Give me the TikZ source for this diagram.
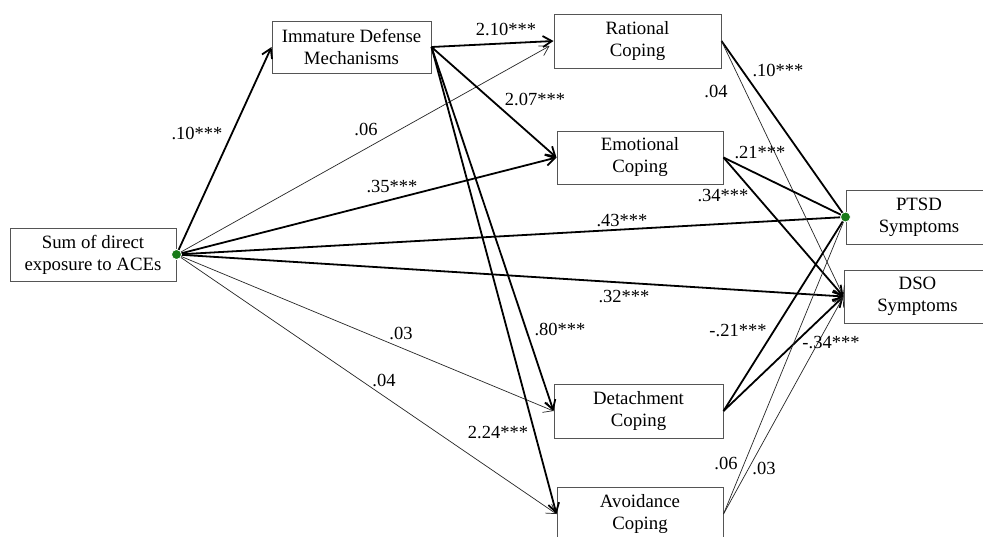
\documentclass[tikz,border=0pt]{standalone}
\usepackage{fontspec}
\setmainfont{Liberation Serif}
\usetikzlibrary{arrows.meta}
\definecolor{dotgreen}{RGB}{24,122,24}
\definecolor{boxgray}{RGB}{85,85,85}
\begin{document}
\begin{tikzpicture}[x=1pt,y=-1pt,
  box/.style={draw=boxgray, line width=1pt, fill=white, align=center, inner sep=0pt,
    font=\fontsize{18.8}{22}\selectfont},
  lab/.style={inner sep=0pt, font=\fontsize{18.5}{20}\selectfont},
  strong/.style={line width=1.8pt, draw=black},
  weak/.style={line width=0.7pt, draw=black!85},
  arr/.style={-{Straight Barb[length=9pt,width=11pt]}},
  dot/.style={circle, fill=dotgreen, draw=white, line width=0.8pt, inner sep=0pt, minimum size=10pt}
]
\useasboundingbox (0,0) rectangle (983,536);
\fill[white] (0,0) rectangle (983,536);

% boxes
\node[box, minimum width=166pt, minimum height=53pt] (ace) at (93,254.5) {Sum of direct\\exposure to ACEs};
\node[box, minimum width=159pt, minimum height=52pt] (idm) at (351.5,47) {Immature Defense\\Mechanisms};
\node[box, minimum width=167pt, minimum height=54pt] (rat) at (637.5,41) {Rational\\Coping};
\node[box, minimum width=166pt, minimum height=53pt] (emo) at (640,157.5) {Emotional\\Coping};
\node[box, minimum width=169pt, minimum height=54pt] (det) at (638.5,411) {Detachment\\Coping};
\node[box, minimum width=166pt, minimum height=54pt] (avo) at (640,514) {Avoidance\\Coping};
\node[box, minimum width=146pt, minimum height=54pt] (ptsd) at (919,217) {PTSD\\Symptoms};
\node[box, minimum width=147pt, minimum height=53pt] (dso) at (917.5,296.5) {DSO\\Symptoms};

% ACE paths
\draw[strong, arr] (ace.east) -- (idm.west);
\draw[weak, arr] (ace.east) -- ([shift={(-4,5)}]rat.west);
\draw[strong, arr] (ace.east) -- (emo.west);
\draw[strong] (ace.east) -- (ptsd.west);
\draw[strong, arr] (ace.east) -- (dso.west);
\draw[weak, arr] (ace.east) -- (det.west);
\draw[weak, arr] (ace.east) -- (avo.west);

% IDM paths
\draw[strong, arr] (idm.east) -- (rat.west);
\draw[strong, arr] (idm.east) -- (emo.west);
\draw[strong, arr] (idm.east) -- (det.west);
\draw[strong, arr] (idm.east) -- (avo.west);

% coping to outcomes
\draw[strong] (rat.east) -- (ptsd.west);
\draw[weak, arr] (rat.east) -- (dso.west);
\draw[strong] (emo.east) -- (ptsd.west);
\draw[strong, arr] (emo.east) -- (dso.west);
\draw[strong] (det.east) -- (ptsd.west);
\draw[strong, arr] (det.east) -- (dso.west);
\draw[weak] (avo.east) -- (ptsd.west);
\draw[weak, arr] (avo.east) -- (dso.west);

% dots
\node[dot] (acedot) at (ace.east) {};
\node[dot] (ptsddot) at (ptsd.west) {};

% labels
\node[lab] (l1) at (197,133) {.10***};
\node[lab] (l2) at (366,129) {.06};
\node[lab] (l3) at (392,187) {.35***};
\node[lab] (l4) at (622,221) {.43***};
\node[lab] (l5) at (624,297) {.32***};
\node[lab] (l6) at (401,333) {.03};
\node[lab] (l7) at (384,380) {.04};
\node[lab] (l8) at (506,29) {2.10***};
\node[lab] (l9) at (535,99) {2.07***};
\node[lab] (l10) at (560,329) {.80***};
\node[lab] (l11) at (498,432) {2.24***};
\node[lab] (l12) at (778,70) {.10***};
\node[lab] (l13) at (716,91) {.04};
\node[lab] (l14) at (760,153) {.21***};
\node[lab] (l15) at (723,196) {.34***};
\node[lab] (l16) at (738,331) {-.21***};
\node[lab] (l17) at (831,343) {-.34***};
\node[lab] (l18) at (726,463) {.06};
\node[lab] (l19) at (764,468) {.03};
\end{tikzpicture}
\end{document}
